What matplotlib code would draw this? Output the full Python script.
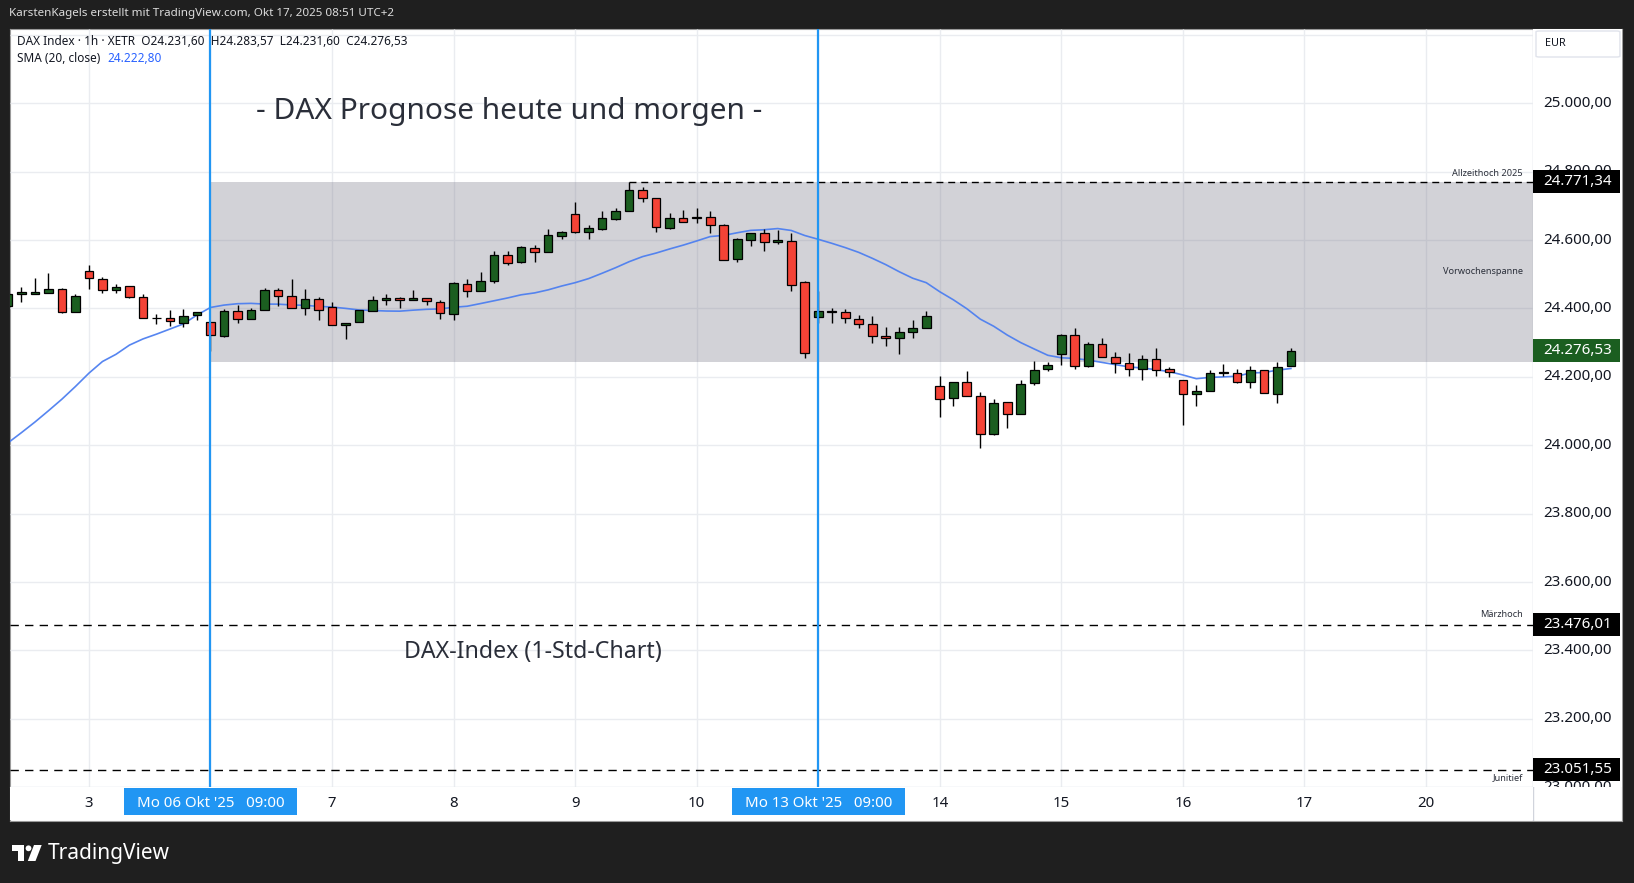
import matplotlib
matplotlib.use('Agg')
import matplotlib.pyplot as plt
import numpy as np
import pandas as pd
from matplotlib.patches import Rectangle, FancyBboxPatch, Polygon, Circle

plt.rcParams['font.family'] = ['Noto Sans', 'DejaVu Sans']

W, H, DPI = 1634, 883, 100

# ---------------- data (hourly candles, index 0 = Mo 06 Okt '25 09:00) ----------------
bar_index = list(range(-15, 81))
opens = [24408, 24441, 24443, 24444, 24456, 24389, 24511, 24485, 24453, 24465,
         24433, 24371, 24371, 24359, 24380, 24360, 24320, 24392, 24368, 24395,
         24453, 24436, 24400, 24427, 24403, 24351, 24360, 24392, 24424, 24430,
         24424, 24430, 24418, 24383, 24471, 24450, 24480, 24555, 24535, 24576,
         24564, 24611, 24675, 24623, 24632, 24663, 24684, 24746, 24722, 24636,
         24664, 24667, 24667, 24643, 24544, 24599, 24620, 24593, 24596, 24477,
         24374, 24392, 24389, 24368, 24354, 24319, 24313, 24330, 24342, 24172,
         24137, 24184, 24143, 24034, 24126, 24091, 24181, 24222, 24266, 24322,
         24231, 24295, 24257, 24240, 24222, 24251, 24222, 24190, 24149, 24158,
         24211, 24211, 24184, 24219, 24149, 24231.60]
highs = [24445, 24462, 24488, 24503, 24459, 24441, 24527, 24491, 24471, 24466,
         24441, 24383, 24395, 24398, 24389, 24360, 24399, 24410, 24400, 24459,
         24459, 24486, 24457, 24433, 24418, 24359, 24395, 24438, 24441, 24433,
         24453, 24430, 24424, 24477, 24486, 24507, 24568, 24568, 24583, 24586,
         24632, 24628, 24711, 24644, 24685, 24693, 24771.34, 24754, 24722, 24679,
         24688, 24693, 24684, 24646, 24607, 24620, 24631, 24630, 24622, 24479,
         24450, 24400, 24398, 24380, 24377, 24345, 24345, 24365, 24392, 24202,
         24184, 24216, 24155, 24134, 24126, 24190, 24246, 24243, 24325, 24342,
         24301, 24313, 24272, 24269, 24263, 24284, 24228, 24190, 24175, 24219,
         24237, 24222, 24231, 24219, 24243, 24283.57]
lows = [24400, 24420, 24441, 24444, 24388, 24389, 24456, 24444, 24444, 24432,
        24371, 24356, 24350, 24347, 24365, 24276, 24318, 24358, 24368, 24395,
        24408, 24400, 24382, 24367, 24351, 24312, 24360, 24392, 24409, 24400,
        24424, 24409, 24370, 24365, 24433, 24450, 24474, 24528, 24532, 24535,
        24564, 24602, 24620, 24604, 24630, 24660, 24684, 24710, 24625, 24633,
        24652, 24649, 24622, 24542, 24535, 24582, 24569, 24590, 24450, 24255,
        24357, 24357, 24357, 24342, 24298, 24291, 24266, 24313, 24342, 24084,
        24116, 24143, 23991, 24031, 24050, 24091, 24175, 24216, 24234, 24222,
        24228, 24257, 24211, 24202, 24190, 24202, 24199, 24058, 24114, 24158,
        24202, 24181, 24167, 24152, 24123, 24231.60]
closes = [24441, 24447, 24448, 24457, 24389, 24438, 24488, 24453, 24462, 24433,
          24371, 24372, 24362, 24379, 24389, 24322, 24392, 24368, 24395, 24453,
          24436, 24400, 24427, 24395, 24351, 24359, 24395, 24424, 24430, 24424,
          24430, 24421, 24386, 24474, 24450, 24480, 24555, 24532, 24579, 24564,
          24614, 24624, 24623, 24634, 24664, 24684, 24746, 24722, 24637, 24664,
          24652, 24666, 24643, 24542, 24604, 24620, 24593, 24600, 24468, 24269,
          24392, 24391, 24371, 24354, 24319, 24313, 24330, 24342, 24377, 24134,
          24184, 24143, 24032, 24123, 24091, 24178, 24219, 24234, 24322, 24231,
          24295, 24257, 24240, 24222, 24251, 24219, 24213, 24149, 24158, 24211,
          24212, 24184, 24219, 24152, 24228, 24276.53]
# SMA(20) for the first bars (earlier history not visible)
sma_early = [24007, 24037, 24068, 24101, 24135, 24172, 24211, 24245, 24266, 24293,
             24311, 24325, 24340, 24355, 24381, 24403, 24410, 24414, 24415]
sma_window = 20
sma_last_value = 24222.80

day_labels = ["3", "7", "8", "9", "10", "14", "15", "16", "17", "20"]
day_label_index = [-9, 9, 18, 27, 36, 54, 63, 72, 81, 90]
bold_day_labels = ["20"]
week_labels = ["Mo 06 Okt '25   09:00", "Mo 13 Okt '25   09:00"]
week_index = [0, 45]

price_ticks = [23000, 23200, 23400, 23600, 23800, 24000, 24200, 24400, 24600, 24800, 25000]
grid_levels = price_ticks + [25200]

ath_price, ath_index, ath_label = 24771.34, 31, "Allzeithoch 2025"
maerz_price, maerz_label = 23476.01, "Märzhoch"
juni_price, juni_label = 23051.55, "Junitief"
range_top, range_bottom, range_start, range_label = 24771.34, 24244, 0, "Vorwochenspanne"

title_text = "- DAX Prognose heute und morgen -"
subtitle_text = "DAX-Index (1-Std-Chart)"
header_text = "KarstenKagels erstellt mit TradingView.com, Okt 17, 2025 08:51 UTC+2"

# ---------------- helpers ----------------
def de(p):
    s = f"{p:,.2f}"
    return s.replace(",", "X").replace(".", ",").replace("X", ".")

GREEN = '#1b5e20'
RED = '#f44336'
BLUE = '#2196f3'
GRID = '#eaecf0'
TXT = '#131722'

fig = plt.figure(figsize=(W / DPI, H / DPI), dpi=DPI, facecolor='#1f1f1f')

def rect(x0, y0, x1, y1):
    return [x0 / W, 1 - y1 / H, (x1 - x0) / W, (y1 - y0) / H]

# pixel frame
FL, FR, FT, FB = 10.4, 1622.5, 29.2, 821.2
PR, PB = 1532.7, 787.0

bg = fig.add_axes(rect(FL, FT, FR, FB))
bg.set_xlim(FL, FR); bg.set_ylim(FB, FT)
bg.set_xticks([]); bg.set_yticks([])
for s in bg.spines.values():
    s.set_color('#9a9a9a'); s.set_linewidth(0.8)
bg.plot([PR, PR], [FT, FB], color='#d1d4dc', lw=1)

ax = fig.add_axes(rect(FL, FT, PR, PB))
ax.set_facecolor('none')
x_left = (FL - 210.5) / 13.505
x_right = (PR - 210.5) / 13.505
y_bottom = 25000 - (PB - 103.3) / 0.342
y_top = 25000 + (103.3 - FT) / 0.342
ax.set_xlim(x_left, x_right)
ax.set_ylim(y_bottom, y_top)
ax.set_xticks([]); ax.set_yticks([])
for k in ['left', 'top', 'right']:
    ax.spines[k].set_visible(False)
ax.spines['bottom'].set_color('#d1d4dc')

idx = np.array(bar_index, dtype=float)
o = np.array(opens); h = np.array(highs); l = np.array(lows); c = np.array(closes)

# grid
ax.hlines(grid_levels, x_left, x_right, color=GRID, lw=1, zorder=1)
ax.vlines(day_label_index + week_index, y_bottom, y_top, color=GRID, lw=1, zorder=1)

# previous week range
ax.add_patch(Rectangle((range_start, range_bottom), x_right + 2 - range_start,
                       range_top - range_bottom,
                       facecolor=(120 / 255, 120 / 255, 135 / 255, 0.33),
                       edgecolor='none', zorder=2))
ax.text(0.9936, (range_top + range_bottom) / 2, range_label,
        transform=ax.get_yaxis_transform(), ha='right', va='center',
        fontsize=6.6, color='#2a2e39', zorder=6)

# horizontal levels
dash = (0, (5, 3.5))
ax.hlines(ath_price, ath_index, x_right, color='black', lw=1.0, linestyles=[dash], zorder=5)
ax.hlines([maerz_price, juni_price], x_left, x_right, color='black', lw=1.0,
          linestyles=[(0, (6, 4.5))], zorder=5)
ax.text(0.9936, ath_price + 17, ath_label, transform=ax.get_yaxis_transform(),
        ha='right', va='baseline', fontsize=6.6, color='#2a2e39', zorder=6)
ax.text(0.9936, maerz_price + 30, maerz_label, transform=ax.get_yaxis_transform(),
        ha='right', va='center', fontsize=6.6, color='#2a2e39', zorder=6)
ax.text(0.9936, juni_price - 22, juni_label, transform=ax.get_yaxis_transform(),
        ha='right', va='center', fontsize=6.6, color='#2a2e39', zorder=6)

# week start markers
ax.vlines(week_index, y_bottom, y_top, color=BLUE, lw=1.6, zorder=7)

# SMA
close_s = pd.Series(closes)
sma = close_s.rolling(sma_window).mean().to_numpy()
sma[:len(sma_early)] = sma_early
ax.plot(idx, sma, color='#4d7ff0', lw=1.2, zorder=4, alpha=0.95)

# candles
up = c >= o
colors = np.where(up, GREEN, RED)
body_lo = np.minimum(o, c)
body_h = np.maximum(np.abs(c - o), 2.5)
ax.vlines(idx, l, h, color='black', lw=1.0, zorder=5)
ax.bar(idx, body_h, bottom=body_lo, width=0.64, color=colors, edgecolor='black',
       linewidth=0.9, zorder=6)

# titles
fig.text(509.6 / W, 1 - 119 / H, title_text, ha='center', va='baseline',
         fontsize=21.5, color='#2a2e39')
fig.text(533 / W, 1 - 658 / H, subtitle_text, ha='center', va='baseline',
         fontsize=16.7, color='#2a2e39')

# legend
fig.text(17 / W, 1 - 41.7 / H,
         f"DAX Index · 1h · XETR  O{de(opens[-1])}  H{de(highs[-1])}  L{de(lows[-1])}  C{de(closes[-1])}",
         ha='left', va='center', fontsize=8.5, color=TXT)
fig.text(17 / W, 1 - 58.4 / H, "SMA (20, close)", ha='left', va='center',
         fontsize=8.5, color=TXT)
fig.text(107.5 / W, 1 - 58.4 / H, de(sma_last_value), ha='left', va='center',
         fontsize=8.5, color='#2962ff')

# ---------------- price axis ----------------
pax = fig.add_axes(rect(PR, FT, FR - 0.5, PB))
pax.set_xlim(0, 1); pax.set_ylim(y_bottom, y_top)
pax.set_xticks([]); pax.set_yticks([])
pax.set_facecolor('white')
for s in pax.spines.values():
    s.set_visible(False)
for p in price_ticks:
    pax.text(0.115, p, de(p), ha='left', va='center', fontsize=10.9, color=TXT,
             clip_on=True, zorder=2)

def price_box(p, color):
    pax.add_patch(Rectangle((0.0, p - 33), 0.975, 66, facecolor=color,
                            edgecolor='none', zorder=3, clip_on=True))
    pax.text(0.115, p, de(p), ha='left', va='center', fontsize=10.9, color='white',
             fontweight='bold', zorder=4, clip_on=True)

price_box(ath_price, 'black')
price_box(maerz_price, 'black')
price_box(juni_price, 'black')
price_box(closes[-1], GREEN)

# EUR box (pixel y 31..57)
eur_top = 25000 + (103.3 - 31) / 0.342
eur_bot = 25000 + (103.3 - 57) / 0.342
pax.add_patch(FancyBboxPatch((0.037, eur_bot), 0.94, eur_top - eur_bot,
                             boxstyle="round,pad=0,rounding_size=0.04",
                             facecolor='white', edgecolor='#e0e3eb', lw=1,
                             mutation_aspect=60, zorder=3))
pax.text(0.135, (eur_top + eur_bot) / 2, "EUR", ha='left', va='center',
         fontsize=7.8, color=TXT, zorder=4)

# ---------------- time axis ----------------
tax = fig.add_axes(rect(FL, PB, PR, FB - 0.8))
tax.set_xlim(x_left, x_right); tax.set_ylim(0, 1)
tax.set_xticks([]); tax.set_yticks([])
tax.set_facecolor('white')
for s in tax.spines.values():
    s.set_visible(False)
for lab, i in zip(day_labels, day_label_index):
    tax.text(i, 0.5, lab, ha='center', va='center', fontsize=10.8, color=TXT,
             fontweight='bold' if lab in bold_day_labels else 'normal')
for lab, i in zip(week_labels, week_index):
    tax.add_patch(Rectangle((i - 6.4, 0.15), 12.8, 0.82, facecolor=BLUE,
                            edgecolor='none', zorder=3))
    tax.text(i, 0.52, lab, ha='center', va='center', fontsize=10.8, color='white', zorder=4)

# ---------------- overlay (header, logo) ----------------
ov = fig.add_axes([0, 0, 1, 1])
ov.set_xlim(0, W); ov.set_ylim(H, 0)
ov.axis('off')
ov.text(9, 13.5, header_text, ha='left', va='center', fontsize=8.4, color='#dcdcdc')
ov.add_patch(Polygon([(12.5, 845), (24, 845), (24, 861), (18.5, 861), (18.5, 850.5), (12.5, 850.5)],
                     closed=True, facecolor='white', edgecolor='none'))
ov.add_patch(Circle((28.5, 848.3), 2.9, facecolor='white', edgecolor='none'))
ov.add_patch(Polygon([(34, 845), (41.7, 845), (35.5, 861), (27.8, 861)],
                     closed=True, facecolor='white', edgecolor='none'))
ov.text(48, 853, "TradingView", ha='left', va='center', fontsize=15,
        fontweight='semibold', color='white')

fig.savefig('out.png', dpi=DPI, facecolor=fig.get_facecolor())
